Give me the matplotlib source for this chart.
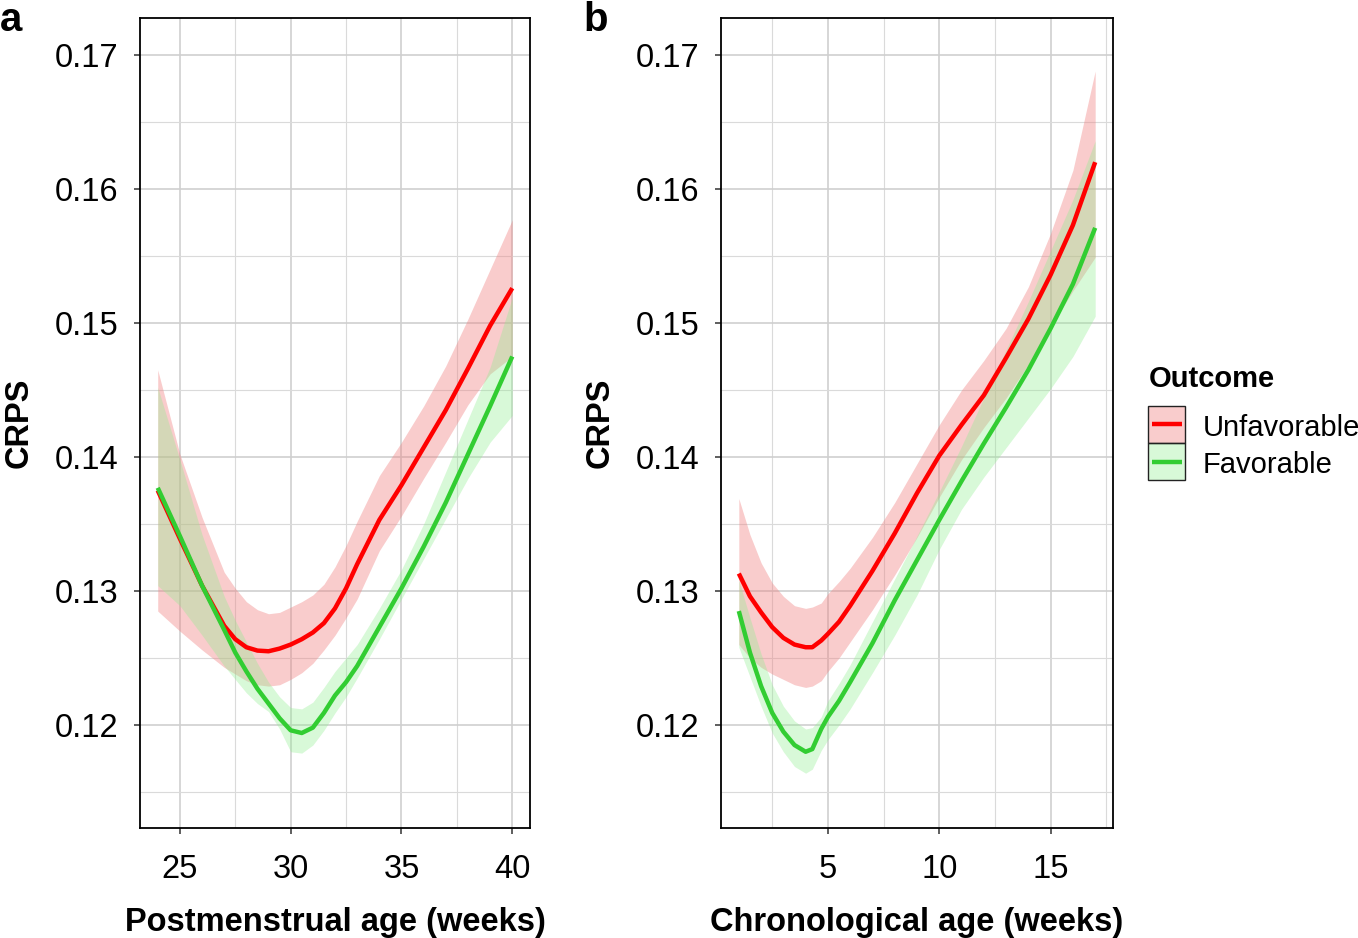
import matplotlib
matplotlib.use("Agg")
import matplotlib.pyplot as plt
from matplotlib.patches import Rectangle
from matplotlib.lines import Line2D
from matplotlib.ticker import FormatStrFormatter

plt.rcParams['font.family'] = ['Liberation Sans', 'DejaVu Sans']

# ---- panel a: postmenstrual age (weeks) ----
pma_weeks = [24, 25, 26, 27, 27.5, 28, 28.5, 29, 29.5, 30, 30.5, 31, 31.5, 32, 32.5,
             33, 34, 35, 36, 37, 38, 39, 40]
pma_unfav = [0.1375, 0.1339, 0.1304, 0.1274, 0.1264, 0.1258, 0.12555, 0.1255, 0.1257, 0.1260,
             0.1264, 0.1269, 0.1276, 0.1287, 0.1302, 0.1320, 0.1353, 0.1379, 0.1407, 0.1435,
             0.1466, 0.1498, 0.1526]
pma_unfav_hi = [0.1465, 0.1402, 0.1355, 0.1314, 0.1302, 0.1292, 0.1286, 0.1283, 0.1284, 0.1288,
                0.1292, 0.1297, 0.1305, 0.1318, 0.1334, 0.1352, 0.1386, 0.1411, 0.1438, 0.1468,
                0.1503, 0.1540, 0.1577]
pma_unfav_lo = [0.1285, 0.1270, 0.1256, 0.1243, 0.1238, 0.1233, 0.1230, 0.1229, 0.1230, 0.1234,
                0.1239, 0.1246, 0.1256, 0.1267, 0.1280, 0.1294, 0.1330, 0.1356, 0.1384, 0.1411,
                0.1439, 0.1462, 0.1475]
pma_fav = [0.1377, 0.1341, 0.1304, 0.1271, 0.1254, 0.1240, 0.1227, 0.1216, 0.1205, 0.1196,
           0.1194, 0.1198, 0.1209, 0.1222, 0.1232, 0.1244, 0.1273, 0.1302, 0.1333, 0.1366,
           0.1402, 0.1438, 0.1475]
pma_fav_hi = [0.1452, 0.1398, 0.1342, 0.1296, 0.1278, 0.1262, 0.1246, 0.1232, 0.1221, 0.1213,
              0.1212, 0.1217, 0.1228, 0.1240, 0.1250, 0.1260, 0.1287, 0.1316, 0.1350, 0.1389,
              0.1428, 0.1467, 0.1519]
pma_fav_lo = [0.1304, 0.1289, 0.1267, 0.1244, 0.1234, 0.1224, 0.1216, 0.1210, 0.1197, 0.1180,
              0.1179, 0.1185, 0.1196, 0.1209, 0.1221, 0.1235, 0.1264, 0.1294, 0.1324, 0.1354,
              0.1384, 0.1411, 0.1431]

# ---- panel b: chronological age (weeks) ----
ca_weeks = [1, 1.5, 2, 2.5, 3, 3.5, 4, 4.3, 4.7, 5, 5.5, 6, 7, 8, 9, 10, 11, 12, 13, 14, 15, 16, 17]
ca_unfav = [0.1313, 0.1296, 0.1284, 0.1273, 0.1265, 0.1260, 0.1258, 0.1258, 0.1263, 0.1268,
            0.1277, 0.1289, 0.1315, 0.1343, 0.1373, 0.1401, 0.1424, 0.1446, 0.1474, 0.1503,
            0.1536, 0.1573, 0.1620]
ca_unfav_hi = [0.1369, 0.1342, 0.1321, 0.1306, 0.1296, 0.1289, 0.1287, 0.1288, 0.1291, 0.1298,
               0.1307, 0.1317, 0.1340, 0.1366, 0.1395, 0.1424, 0.1450, 0.1472, 0.1496, 0.1527,
               0.1567, 0.1614, 0.1688]
ca_unfav_lo = [0.1260, 0.1250, 0.1243, 0.1238, 0.1234, 0.1230, 0.1228, 0.1229, 0.1233, 0.1240,
               0.1250, 0.1262, 0.1286, 0.1312, 0.1340, 0.1370, 0.1398, 0.1422, 0.1444, 0.1469,
               0.1497, 0.1524, 0.1549]
ca_fav = [0.1285, 0.1254, 0.1229, 0.1209, 0.1195, 0.1185, 0.1180, 0.1182, 0.1197, 0.1206,
          0.1218, 0.1232, 0.1261, 0.1293, 0.1323, 0.1353, 0.1382, 0.1410, 0.1437, 0.1465,
          0.1496, 0.1529, 0.1571]
ca_fav_hi = [0.1308, 0.1280, 0.1253, 0.1230, 0.1214, 0.1203, 0.1197, 0.1198, 0.1206, 0.1218,
             0.1231, 0.1245, 0.1277, 0.1309, 0.1341, 0.1374, 0.1408, 0.1444, 0.1480, 0.1516,
             0.1554, 0.1592, 0.1636]
ca_fav_lo = [0.1258, 0.1236, 0.1214, 0.1194, 0.1180, 0.1169, 0.1164, 0.1167, 0.1181, 0.1189,
             0.1200, 0.1212, 0.1239, 0.1267, 0.1297, 0.1331, 0.1361, 0.1385, 0.1407, 0.1429,
             0.1451, 0.1475, 0.1505]

outcomes = ['Unfavorable', 'Favorable']
line_colors = ['#ff0000', '#32cd32']
band_colors = ['#f08080', '#90ee90']
band_alpha = [0.4, 0.35]
y_major = [0.12, 0.13, 0.14, 0.15, 0.16, 0.17]
y_minor = [0.115, 0.125, 0.135, 0.145, 0.155, 0.165]

W, H = 1358, 938
FS = 23.5
LW = 3.2
fig = plt.figure(figsize=(W / 100, H / 100), dpi=100)


def rect(x0, y0, x1, y1):
    return [x0 / W, 1 - y1 / H, (x1 - x0) / W, (y1 - y0) / H]


def panel(ax, x, series, xlim, xmajor, xminor, xlabel):
    for (mid, lo, hi), col, fcol, fa in zip(series, line_colors, band_colors, band_alpha):
        ax.fill_between(x, lo, hi, color=fcol, alpha=fa, lw=0)
        ax.plot(x, mid, color=col, lw=LW, solid_capstyle='butt', solid_joinstyle='round')
    ax.set_xlim(xlim)
    ax.set_ylim(0.11231, 0.17276)
    ax.set_xticks(xmajor)
    ax.set_xticks(xminor, minor=True)
    ax.set_yticks(y_major)
    ax.set_yticks(y_minor, minor=True)
    ax.yaxis.set_major_formatter(FormatStrFormatter('%.2f'))
    ax.set_axisbelow(True)
    ax.grid(which='major', color='#cfcfcf', lw=1.2)
    ax.grid(which='minor', color='#dadada', lw=0.8)
    ax.tick_params(which='minor', length=0)
    ax.tick_params(which='major', length=4.5, width=1.1, color='#333333',
                   labelsize=FS, labelcolor='black')
    ax.tick_params(axis='x', pad=14)
    ax.tick_params(axis='y', pad=11)
    for s in ax.spines.values():
        s.set_linewidth(1.3)
        s.set_color('black')
    ax.set_xlabel(xlabel, fontsize=FS, fontweight='bold')
    ax.set_ylabel('CRPS', fontsize=FS, fontweight='bold')
    ax.xaxis.set_label_coords(0.5, -0.097)
    ax.yaxis.set_label_coords(-0.27, 0.5)


ax_a = fig.add_axes(rect(140, 18, 530, 828))
panel(ax_a, pma_weeks,
      [(pma_unfav, pma_unfav_lo, pma_unfav_hi), (pma_fav, pma_fav_lo, pma_fav_hi)],
      (23.2, 40.8), [25, 30, 35, 40], [27.5, 32.5, 37.5], 'Postmenstrual age (weeks)')

ax_b = fig.add_axes(rect(721, 18, 1113, 828))
panel(ax_b, ca_weeks,
      [(ca_unfav, ca_unfav_lo, ca_unfav_hi), (ca_fav, ca_fav_lo, ca_fav_hi)],
      (0.2, 17.8), [5, 10, 15], [2.5, 7.5, 12.5, 17.5], 'Chronological age (weeks)')

# panel letters
fig.text(0 / W, 1 - 31 / H, 'a', fontsize=29, fontweight='bold', va='baseline')
fig.text(583 / W, 1 - 31 / H, 'b', fontsize=29, fontweight='bold', va='baseline')

# legend drawn in figure pixels
fig.text(1149 / W, 1 - 387 / H, 'Outcome', fontsize=21, fontweight='bold', va='baseline')
for i, (name, col, fcol, fa) in enumerate(zip(outcomes, line_colors, band_colors, band_alpha)):
    top = 406 + i * 37
    fig.add_artist(Rectangle((1148 / W, 1 - (top + 37) / H), 37 / W, 37 / H,
                             transform=fig.transFigure, facecolor=fcol, alpha=fa, lw=0))
    fig.add_artist(Rectangle((1148 / W, 1 - (top + 37) / H), 37 / W, 37 / H,
                             transform=fig.transFigure, facecolor='none',
                             edgecolor='#222222', lw=1.0))
    yc = 1 - (top + 18.5) / H
    fig.add_artist(Line2D([1152 / W, 1182 / W], [yc, yc], transform=fig.transFigure,
                          color=col, lw=LW, solid_capstyle='butt'))
    fig.text(1203 / W, yc, name, fontsize=21, va='center_baseline')

fig.savefig('out.png', dpi=100)
